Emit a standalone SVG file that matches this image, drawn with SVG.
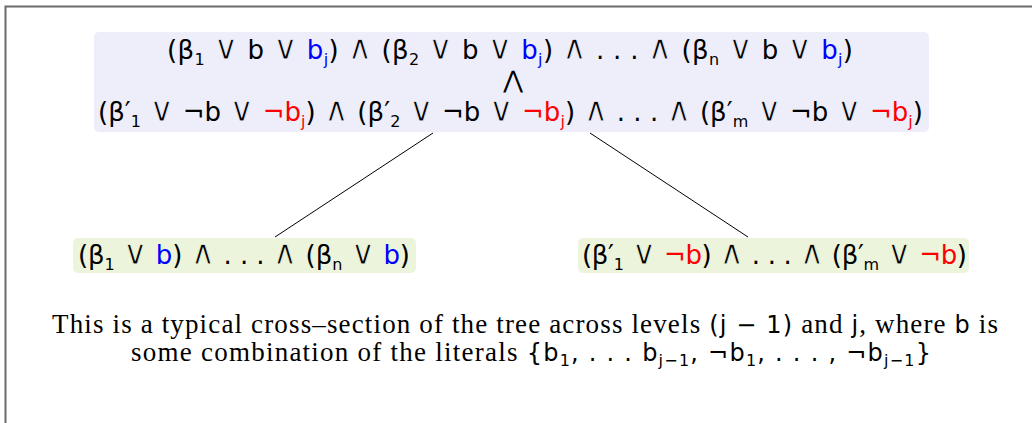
<svg xmlns="http://www.w3.org/2000/svg" width="1032" height="423" viewBox="0 0 1032 423">
<style>
.m{font-family:"DejaVu Sans","Noto Sans",sans-serif;font-size:26px;fill:#000}
.s{font-size:16px}
.o{font-size:34px;stroke-width:1px}
.tb .o{stroke:#eeeefa}
.gb .o{stroke:#edf4dc}
.bl{fill:#0000ff}
.rd{fill:#ff0000}
.cap{font-family:"Liberation Serif",serif;font-size:27px;fill:#000}
.cm{font-family:"DejaVu Sans",sans-serif;font-size:24px}
.edge{stroke:#000;stroke-width:1;fill:none}
</style>
<rect x="0" y="0" width="1032" height="423" fill="#fff"/>
<path d="M5.5,423 V6.5 H1032" stroke="#6b6b6b" stroke-width="2" fill="none"/>
<g id="connectors">
<line class="edge" x1="433" y1="133" x2="275" y2="237"/>
<line class="edge" x1="590" y1="133" x2="748" y2="237"/>
</g>
<g id="top" class="tb">
<rect x="94" y="32" width="835" height="100" rx="5" fill="#eeeefa"/>
<text class="m" x="167" y="59" textLength="686">(β<tspan class="s" dy="6">1</tspan><tspan dy="-6"> </tspan><tspan class="o">∨</tspan> b <tspan class="o">∨</tspan> <tspan class="bl">b</tspan><tspan class="s bl" dy="6">j</tspan><tspan dy="-6">) </tspan><tspan class="o">∧</tspan> (β<tspan class="s" dy="6">2</tspan><tspan dy="-6"> </tspan><tspan class="o">∨</tspan> b <tspan class="o">∨</tspan> <tspan class="bl">b</tspan><tspan class="s bl" dy="6">j</tspan><tspan dy="-6">) </tspan><tspan class="o">∧</tspan> . . . <tspan class="o">∧</tspan> (β<tspan class="s" dy="6">n</tspan><tspan dy="-6"> </tspan><tspan class="o">∨</tspan> b <tspan class="o">∨</tspan> <tspan class="bl">b</tspan><tspan class="s bl" dy="6">j</tspan><tspan dy="-6">)</tspan></text>
<text class="m" x="513" y="88" text-anchor="middle" style="font-size:24px">⋀</text>
<text class="m" x="98" y="121" textLength="825">(β′<tspan class="s" dy="6">1</tspan><tspan dy="-6"> </tspan><tspan class="o">∨</tspan> ¬b <tspan class="o">∨</tspan> <tspan class="rd">¬b</tspan><tspan class="s rd" dy="6">j</tspan><tspan dy="-6">) </tspan><tspan class="o">∧</tspan> (β′<tspan class="s" dy="6">2</tspan><tspan dy="-6"> </tspan><tspan class="o">∨</tspan> ¬b <tspan class="o">∨</tspan> <tspan class="rd">¬b</tspan><tspan class="s rd" dy="6">j</tspan><tspan dy="-6">) </tspan><tspan class="o">∧</tspan> . . . <tspan class="o">∧</tspan> (β′<tspan class="s" dy="6">m</tspan><tspan dy="-6"> </tspan><tspan class="o">∨</tspan> ¬b <tspan class="o">∨</tspan> <tspan class="rd">¬b</tspan><tspan class="s rd" dy="6">j</tspan><tspan dy="-6">)</tspan></text>
</g>
<g id="left" class="gb">
<rect x="73" y="238" width="343" height="35" rx="5" fill="#edf4dc"/>
<text class="m" x="78" y="264" textLength="332">(β<tspan class="s" dy="6">1</tspan><tspan dy="-6"> </tspan><tspan class="o">∨</tspan> <tspan class="bl">b</tspan>) <tspan class="o">∧</tspan> . . . <tspan class="o">∧</tspan> (β<tspan class="s" dy="6">n</tspan><tspan dy="-6"> </tspan><tspan class="o">∨</tspan> <tspan class="bl">b</tspan>)</text>
</g>
<g id="right" class="gb">
<rect x="578" y="238" width="391" height="35" rx="5" fill="#edf4dc"/>
<text class="m" x="582" y="264" textLength="385">(β′<tspan class="s" dy="6">1</tspan><tspan dy="-6"> </tspan><tspan class="o">∨</tspan> <tspan class="rd">¬b</tspan>) <tspan class="o">∧</tspan> . . . <tspan class="o">∧</tspan> (β′<tspan class="s" dy="6">m</tspan><tspan dy="-6"> </tspan><tspan class="o">∨</tspan> <tspan class="rd">¬b</tspan>)</text>
</g>
<g id="caption">
<text class="cap" x="525" y="333" text-anchor="middle" textLength="946">This is a typical cross–section of the tree across levels <tspan class="cm">(j − 1)</tspan> and <tspan class="cm">j</tspan>, where <tspan class="cm">b</tspan> is</text>
<text class="cap" x="531" y="361" text-anchor="middle" textLength="800">some combination of the literals <tspan class="cm">{b<tspan class="s" dy="5">1</tspan><tspan dy="-5">, . . . b</tspan><tspan class="s" dy="5">j−1</tspan><tspan dy="-5">, ¬b</tspan><tspan class="s" dy="5">1</tspan><tspan dy="-5">, . . . , ¬b</tspan><tspan class="s" dy="5">j−1</tspan><tspan dy="-5">}</tspan></tspan></text>
</g>
</svg>
